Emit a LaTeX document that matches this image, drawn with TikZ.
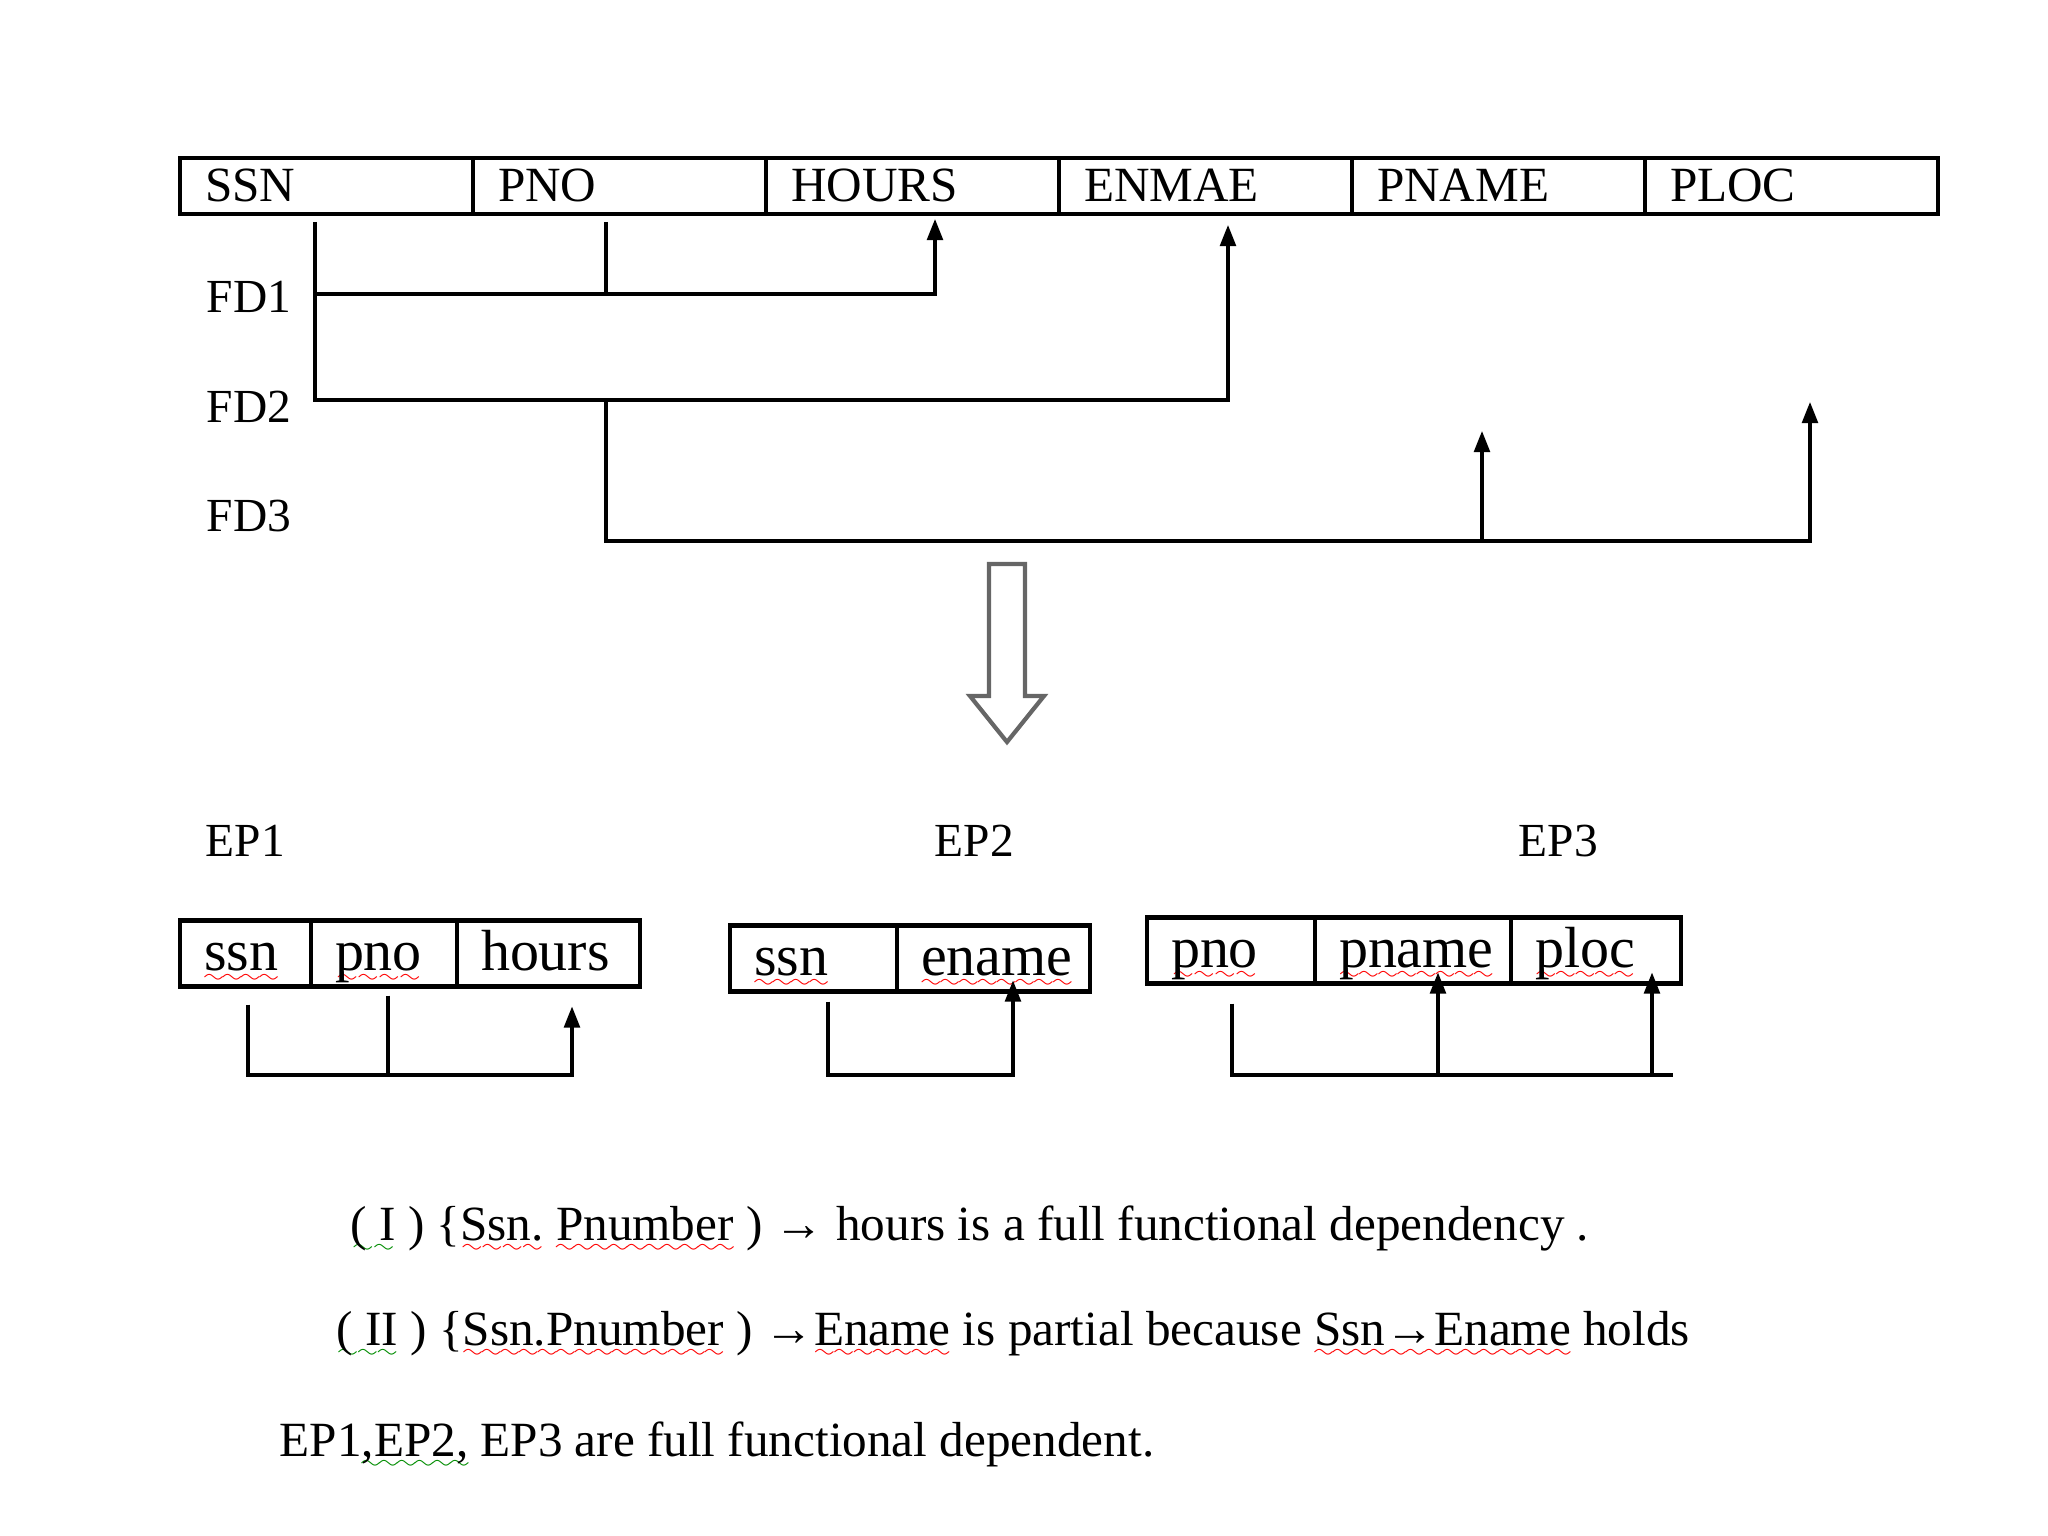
\documentclass[tikz,border=0pt]{standalone}
\usepackage{fontspec}
\setmainfont{Liberation Serif}
\usetikzlibrary{positioning,arrows.meta}

\font\wavefont=lasy6
\newcommand\wavy[2]{\setbox0\hbox{#2}\rlap{\textcolor{#1}{\lower3.5pt\hbox to\wd0{\xleaders\hbox{\wavefont\char58}\hfil}}}\box0\relax}
\newcommand\redwave[1]{\wavy{red}{#1}}
\newcommand\greenwave[1]{\wavy{green!55!black}{#1}}

\tikzset{
  topcell/.style={draw, line width=1.2pt, outer sep=0pt, inner xsep=0.25cm, inner ysep=0pt,
    text width=2.43cm, align=left, minimum height=0.56cm, text height=0.38cm, text depth=0.06cm,
    font=\fontsize{14}{16}\selectfont},
  epcell/.style={draw, line width=1.2pt, outer sep=0pt, inner xsep=0.24cm, inner ysep=0pt,
    text width=#1, align=left, minimum height=0.66cm, text height=0.44cm, text depth=0.1cm,
    font=\fontsize{16.5}{19}\selectfont},
  fdtag/.style={anchor=base west, inner sep=0pt, font=\fontsize{13.5}{16}\selectfont},
  note/.style={anchor=base west, inner sep=0pt, font=\fontsize{14}{16}\selectfont},
  link/.style={line width=0.9pt},
  bar/.style={line width=1.3pt},
  uparrow/.style={link, -{Triangle[length=6pt,width=4.5pt]}},
}

\begin{document}
\begin{tikzpicture}
  \useasboundingbox (0,0) rectangle (20.48,-15.36);

  \node[topcell, anchor=west] (ssn) at (1.80,-1.86) {SSN};
  \node[topcell, right=0pt of ssn]   (pno)   {PNO};
  \node[topcell, right=0pt of pno]   (hours) {HOURS};
  \node[topcell, right=0pt of hours] (ename) {ENMAE};
  \node[topcell, right=0pt of ename] (pname) {PNAME};
  \node[topcell, right=0pt of pname] (ploc)  {PLOC};

  \node[fdtag] (fdone)   at (2.06,-3.13) {FD1};
  \node[fdtag] (fdtwo)   at (2.06,-4.23) {FD2};
  \node[fdtag] (fdthree) at (2.06,-5.32) {FD3};

  \coordinate (rowone)   at (0,-2.94);
  \coordinate (rowtwo)   at (0,-4.00);
  \coordinate (rowthree) at (0,-5.41);
  \coordinate (fdA)   at ([xshift=-0.115cm,yshift=-0.08cm]ssn.south);
  \coordinate (fdB)   at ([xshift=-0.135cm,yshift=-0.08cm]pno.south);
  \coordinate (hrsin) at ([xshift=0.225cm,yshift=-0.05cm]hours.south);
  \coordinate (enmin) at ([xshift=0.225cm,yshift=-0.11cm]ename.south);
  \coordinate (pnmin) at ([xshift=-0.165cm,yshift=-2.17cm]pname.south);
  \coordinate (plcin) at ([xshift=0.185cm,yshift=-1.88cm]ploc.south);

  \draw[uparrow] (fdA) -- (fdA |- rowtwo) -| (enmin);
  \draw[uparrow] (fdA |- rowone) -| (hrsin);
  \draw[bar] (fdA |- rowone) -- (hrsin |- rowone);
  \draw[link] (fdB) -- (fdB |- rowone);
  \draw[uparrow] (fdB |- rowtwo) -- (fdB |- rowthree) -| (plcin);
  \draw[bar] (fdB |- rowthree) -- (plcin |- rowthree);
  \draw[uparrow] (pnmin |- rowthree) -- (pnmin);

  \draw[black!60, line width=1.2pt, line join=miter]
    (9.89,-5.64) -- (10.25,-5.64) -- (10.25,-6.96) -- (10.44,-6.96)
    -- (10.07,-7.42) -- (9.70,-6.96) -- (9.89,-6.96) -- cycle;

  \node[fdtag] (epone)   at (2.05,-8.57)  {EP1};
  \node[fdtag] (eptwo)   at (9.34,-8.57)  {EP2};
  \node[fdtag] (epthree) at (15.18,-8.57) {EP3};

  \node[epcell=0.83cm, anchor=west] (essn) at (1.80,-9.535) {\redwave{ssn}};
  \node[epcell=0.98cm, right=0pt of essn] (epno) {\redwave{pno}};
  \node[epcell=1.35cm, right=0pt of epno] (ehrs) {hours};

  \node[epcell=1.19cm, anchor=west] (fssn) at (7.30,-9.585) {\redwave{ssn}};
  \node[epcell=1.45cm, right=0pt of fssn] (fename) {\redwave{ename}};

  \node[epcell=1.20cm, anchor=west] (gpno) at (11.47,-9.505) {\redwave{pno}};
  \node[epcell=1.48cm, right=0pt of gpno] (gpname) {\redwave{pname}};
  \node[epcell=1.22cm, right=0pt of gpname] (gploc) {\redwave{ploc}};

  \coordinate (eprow) at (0,-10.75);
  \coordinate (eA) at ([xshift=0.025cm,yshift=-0.18cm]essn.south);
  \coordinate (eB) at ([xshift=0.04cm,yshift=-0.09cm]epno.south);
  \coordinate (eC) at ([xshift=0.235cm,yshift=-0.20cm]ehrs.south);
  \coordinate (fA) at ([xshift=0.145cm,yshift=-0.10cm]fssn.south);
  \coordinate (fB) at ([xshift=0.195cm,yshift=0.11cm]fename.south);
  \coordinate (gA) at ([xshift=0.01cm,yshift=-0.20cm]gpno.south);
  \coordinate (gB) at ([xshift=0.25cm,yshift=0.11cm]gpname.south);
  \coordinate (gC) at ([xshift=0.56cm,yshift=0.11cm]gploc.south);
  \coordinate (gend) at (16.73,-10.75);

  \draw[uparrow] (eA) -- (eA |- eprow) -| (eC);
  \draw[link] (eB) -- (eB |- eprow);
  \draw[uparrow] (fA) -- (fA |- eprow) -| (fB);
  \draw[link] (gA) -- (gA |- eprow) -- (gend);
  \draw[uparrow] (gB |- eprow) -- (gB);
  \draw[uparrow] (gC |- eprow) -- (gC);

  \node[note] (stone) at (3.50,-12.40)
    {\greenwave{( I} ) \{\redwave{Ssn.} \redwave{Pnumber} ) → hours is a full functional dependency .};
  \node[note] (sttwo) at (3.36,-13.45)
    {\greenwave{( II} ) \{\redwave{Ssn.Pnumber} ) →\redwave{Ename} is partial because \redwave{Ssn→Ename} holds};
  \node[note] (stthree) at (2.79,-14.56)
    {EP1\greenwave{,EP2,} EP3 are full functional dependent.};
\end{tikzpicture}
\end{document}
